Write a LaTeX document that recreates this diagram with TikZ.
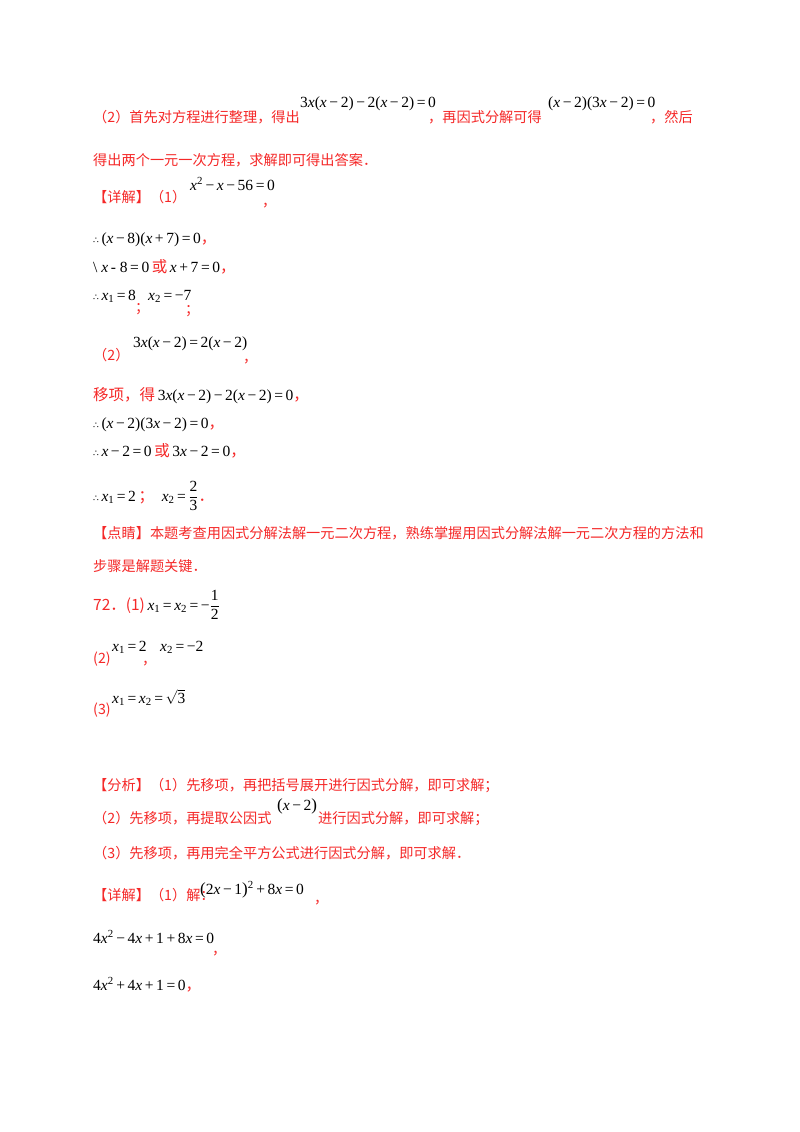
\documentclass[tikz,border=0pt]{standalone}
\usepackage{amsmath}
\usepackage{fontspec}
\setmainfont{Liberation Serif}
\newfontfamily\cjk{Noto Sans CJK SC}
\newfontfamily\dvs{DejaVu Sans}
\definecolor{rd}{RGB}{245,40,40}
\newcommand{\cn}[1]{{\cjk\color{rd}#1}}
\newcommand{\mi}[1]{\textit{#1}}
\newcommand{\mn}{−}
\newcommand{\thf}{{\dvs\small ∴}}
\newcommand{\sub}[1]{\textsubscript{#1}}
\newcommand{\sqr}[1]{\textsuperscript{#1}}
\newcommand{\bp}[1]{{\fontsize{17}{17}\selectfont(}#1{\fontsize{17}{17}\selectfont)}}
\begin{document}
\begin{tikzpicture}[x=1pt,y=-1pt,
  t/.style={anchor=base west,inner sep=0pt,font=\fontsize{14.2}{16}\selectfont},
  m/.style={anchor=base west,inner sep=0pt,font=\fontsize{15.5}{16}\selectfont}]
\useasboundingbox[fill=white] (0,0) rectangle (800,1132);
\node[t] (a1) at (93,122) {\cn{（2）首先对方程进行整理，得出}};
\node[m] (a2) at (300,107) {3\mi{x}(\mi{x}\,\mn\,2)\,\mn\,2(\mi{x}\,\mn\,2)\,=\,0};
\node[t] (a3) at (428,122) {\cn{，再因式分解可得}};
\node[m] (a4) at (548,107) {(\mi{x}\,\mn\,2)(3\mi{x}\,\mn\,2)\,=\,0};
\node[t] (a5) at (650,122) {\cn{，然后}};
\node[t] (b1) at (93,165) {\cn{得出两个一元一次方程，求解即可得出答案．}};
\node[t] (c1) at (93,202) {\cn{【详解】（1）}};
\node[m] (c2) at (190,190) {\mi{x}\sqr{2}\,\mn\,\mi{x}\,\mn\,56\,=\,0};
\node[t] (c3) at (262,206) {\cn{，}};
\node[m] (d1) at (93,243) {\thf\,(\mi{x}\,\mn\,8)(\mi{x}\,+\,7)\,=\,0\cn{，}};
\node[m] (e1) at (93,272) {\textbackslash\ \mi{x}\,-\ 8\,=\,0\,\cn{或}\,\mi{x}\,+\,7\,=\,0\cn{，}};
\node[m] (f1) at (93,300) {\thf\,\mi{x}\sub{1}\,=\,8};
\node[t] (f2) at (135,312) {\cn{；}};
\node[m] (f3) at (148,300) {\mi{x}\sub{2}\,=\,\mn7};
\node[t] (f4) at (185,314) {\cn{；}};
\node[t] (g1) at (93,360) {\cn{（2）}};
\node[m] (g2) at (133,347) {3\mi{x}(\mi{x}\,\mn\,2)\,=\,2(\mi{x}\,\mn\,2)};
\node[t] (g3) at (243,362) {\cn{，}};
\node[m] (h1) at (93,400) {\cn{移项，得}\,3\mi{x}(\mi{x}\,\mn\,2)\,\mn\,2(\mi{x}\,\mn\,2)\,=\,0\cn{，}};
\node[m] (i1) at (93,428) {\thf\,(\mi{x}\,\mn\,2)(3\mi{x}\,\mn\,2)\,=\,0\cn{，}};
\node[m] (j1) at (93,456) {\thf\,\mi{x}\,\mn\,2\,=\,0\,\cn{或}\,3\mi{x}\,\mn\,2\,=\,0\cn{，}};
\node[m] (k1) at (93,501) {\thf\,\mi{x}\sub{1}\,=\,2\,\cn{；}\ \ \mi{x}\sub{2}\,=\,$\dfrac{\mbox{2}}{\mbox{3}}$\cn{．}};
\node[t] (l1) at (93,538) {\cn{【点睛】本题考查用因式分解法解一元二次方程，熟练掌握用因式分解法解一元二次方程的方法和}};
\node[t] (l2) at (93,571) {\cn{步骤是解题关键．}};
\node[m] (n1) at (93,610) {\cn{72．(1)}\,\mi{x}\sub{1}\,=\,\mi{x}\sub{2}\,=\,\mn$\dfrac{\mbox{1}}{\mbox{2}}$};
\node[t] (o1) at (93,663) {\cn{(2)}};
\node[m] (o2) at (112,651) {\mi{x}\sub{1}\,=\,2};
\node[t] (o3) at (142,664) {\cn{，}};
\node[m] (o4) at (160,651) {\mi{x}\sub{2}\,=\,\mn2};
\node[t] (p1) at (93,714) {\cn{(3)}};
\node[m] (p2) at (112,703) {\mi{x}\sub{1}\,=\,\mi{x}\sub{2}\,=\,$\sqrt{\mbox{3}}$};
\node[t] (q1) at (93,790) {\cn{【分析】（1）先移项，再把括号展开进行因式分解，即可求解；}};
\node[t] (q2) at (93,823) {\cn{（2）先移项，再提取公因式}};
\node[m] (q3) at (277,810) {\bp{\mi{x}\,\mn\,2}};
\node[t] (q4) at (318,823) {\cn{进行因式分解，即可求解；}};
\node[t] (q5) at (93,858) {\cn{（3）先移项，再用完全平方公式进行因式分解，即可求解．}};
\node[t] (r1) at (93,900) {\cn{【详解】（1）解：}};
\node[m] (r2) at (200,894) {\bp{2\mi{x}\,\mn\,1}\sqr{2}\,+\,8\mi{x}\,=\,0};
\node[t] (r3) at (314,903) {\cn{，}};
\node[m] (s1) at (93,943) {4\mi{x}\sqr{2}\,\mn\,4\mi{x}\,+\,1\,+\,8\mi{x}\,=\,0};
\node[t] (s2) at (212,954) {\cn{，}};
\node[m] (u1) at (93,990) {4\mi{x}\sqr{2}\,+\,4\mi{x}\,+\,1\,=\,0\cn{，}};
\end{tikzpicture}
\end{document}
